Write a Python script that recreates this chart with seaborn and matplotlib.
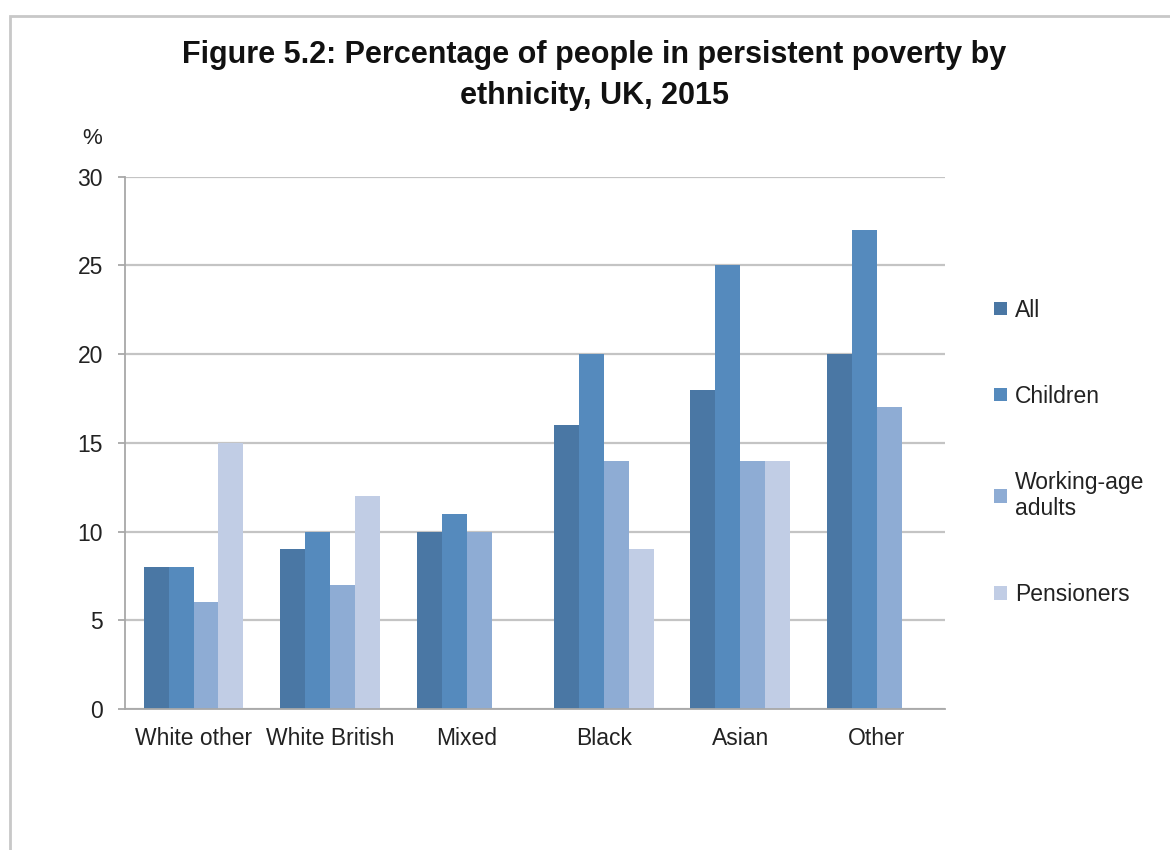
import pandas as pd
import matplotlib.pyplot as plt
import seaborn as sns
from matplotlib.patches import Rectangle, Patch

# data
groups = ["White other", "White British", "Mixed", "Black", "Asian", "Other"]
series = ["All", "Children", "Working-age adults", "Pensioners"]
all_people = [8, 9, 10, 16, 18, 20]
children = [8, 10, 11, 20, 25, 27]
working_age = [6, 7, 10, 14, 14, 17]
pensioners = [15, 12, None, 9, 14, None]
colours = ["#4a77a4", "#558abd", "#8eacd4", "#c1cde5"]

rows = []
for name, vals in zip(series, [all_people, children, working_age, pensioners]):
    for g, v in zip(groups, vals):
        rows.append({"group": g, "series": name, "value": v})
df = pd.DataFrame(rows)

sns.set_theme(style="white")
plt.rcParams['font.family'] = ['Liberation Sans', 'DejaVu Sans']

fig = plt.figure(figsize=(11.7, 8.5), dpi=100)
ax = fig.add_axes([0.107, 0.166, 0.701, 0.626])

sns.barplot(data=df, x="group", y="value", hue="series", order=groups,
            hue_order=series, palette=colours, width=0.73, saturation=1,
            linewidth=0, ax=ax, legend=False)

ax.set_ylim(0, 30)
ax.set_xlim(-0.5, 5.5)
ax.set_yticks([0, 5, 10, 15, 20, 25, 30])
ax.yaxis.grid(True, color="#c4c4c4", linewidth=1.6)
ax.set_axisbelow(True)
ax.set_xlabel("")
ax.set_ylabel("")

for s in ["top", "right"]:
    ax.spines[s].set_visible(False)
for s in ["left", "bottom"]:
    ax.spines[s].set_color("#a8a8a8")
    ax.spines[s].set_linewidth(1.3)

ax.set_xticks([i + 0.5 for i in range(-1, 6)], minor=True)
ax.tick_params(axis="x", which="major", length=0, pad=13, labelsize=16.5, labelcolor="#222222")
ax.tick_params(axis="x", which="minor", length=5, width=1.3, color="#a8a8a8", direction="out")
ax.tick_params(axis="y", length=5, width=1.3, color="#a8a8a8", left=True, pad=11,
               labelsize=16.5, labelcolor="#222222")

fig.suptitle("Figure 5.2: Percentage of people in persistent poverty by\nethnicity, UK, 2015",
             x=0.508, y=0.953, fontsize=22, fontweight="bold", color="#111111",
             linespacing=1.5)
fig.text(0.070, 0.830, "%", fontsize=16, color="#222222")

handles = [Patch(facecolor=c, edgecolor="none") for c in colours]
labels = ["All", "Children", "Working-age\nadults", "Pensioners"]
fig.legend(handles, labels, loc="upper left", bbox_to_anchor=(0.832, 0.673),
           frameon=False, fontsize=16.5, handlelength=0.55, handleheight=0.55,
           handletextpad=0.35, labelspacing=2.75, labelcolor="#222222")

# outer frame of the original chart box
fig.add_artist(Rectangle((0.0085, -0.05), 1.1, 1.031, transform=fig.transFigure,
                         fill=False, edgecolor="#c8c8c8", linewidth=2))

fig.savefig("out.png", dpi=100, facecolor="white")
